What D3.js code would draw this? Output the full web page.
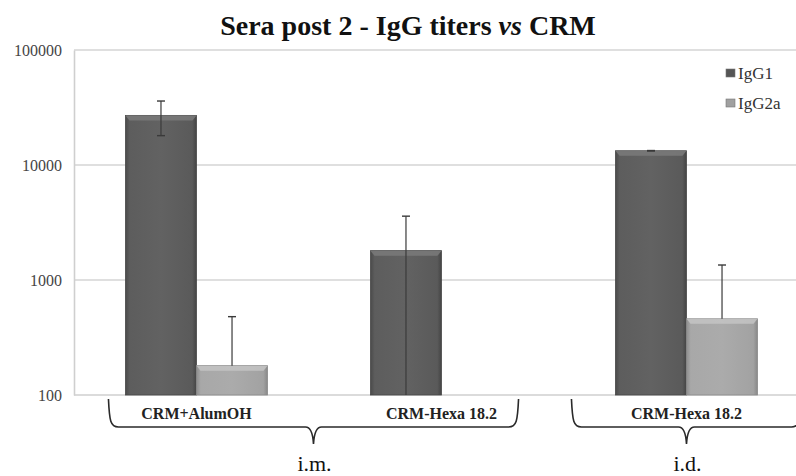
<!DOCTYPE html>
<html>
<head>
<meta charset="utf-8">
<script src="https://cdn.jsdelivr.net/npm/d3@7"></script>
<style>
  html, body { margin: 0; padding: 0; background: #fff; }
  svg { display: block; }
</style>
</head>
<body>
<svg id="chart" width="796" height="476"></svg>
<script>
// Groups along the x axis and their printed labels
const groups = ["g1", "g2", "g3"];
const groupLabels = ["CRM+AlumOH", "CRM-Hexa 18.2", "CRM-Hexa 18.2"];
const seriesNames = ["IgG1", "IgG2a"];

// Mean titers and standard deviations (null = no titer)
const igg1 = [27000, 1800, 13300];
const igg1Err = [9000, 1790, 60];
const igg2a = [180, null, 460];
const igg2aErr = [300, null, 890];

const yTicks = [100, 1000, 10000, 100000];

// Route of administration brackets: first and last group covered
const routes = [
  { label: "i.m.", from: 0, to: 1 },
  { label: "i.d.", from: 2, to: 2 }
];

const SERIF = "'Liberation Serif', 'Times New Roman', serif";
const svg = d3.select("#chart");
const W = 796;
const m = { left: 74, top: 50, bottom: 395 };
const plotRight = m.left + 3 * 245;

const x = d3.scaleBand().domain(groups).range([m.left, plotRight]).paddingInner(0.42).paddingOuter(0.21);
const xs = d3.scaleBand().domain(seriesNames).range([0, x.bandwidth()]);
const y = d3.scaleLog().domain([100, 100000]).range([m.bottom, m.top]);

const defs = svg.append("defs");
function grad(id, stops) {
  const g = defs.append("linearGradient").attr("id", id).attr("x1", 0).attr("x2", 1).attr("y1", 0).attr("y2", 0);
  stops.forEach(([o, c]) => g.append("stop").attr("offset", o).attr("stop-color", c));
}
grad("gDark", [[0, "#4a4a4a"], [0.06, "#5d5d5d"], [0.5, "#626262"], [0.94, "#5a5a5a"], [1, "#444"]]);
grad("gLight", [[0, "#8e8e8e"], [0.06, "#a8a8a8"], [0.5, "#ababab"], [0.94, "#a2a2a2"], [1, "#888"]]);
const fills = { IgG1: "url(#gDark)", IgG2a: "url(#gLight)" };
const topFills = { IgG1: "#7a7a7a", IgG2a: "#c4c4c4" };
const legendFills = { IgG1: "#555", IgG2a: "#a0a0a0" };

// Title
const title = svg.append("text")
  .attr("x", 408).attr("y", 35)
  .attr("text-anchor", "middle")
  .attr("font-family", SERIF)
  .attr("font-weight", "bold").attr("font-size", 28).attr("fill", "#111");
title.append("tspan").text("Sera post 2 - IgG titers ");
title.append("tspan").attr("font-style", "italic").text("vs");
title.append("tspan").text(" CRM");

// Grid lines (including top border at 100000)
svg.append("g").selectAll("line").data(yTicks.slice(1)).join("line")
  .attr("x1", m.left).attr("x2", W)
  .attr("y1", d => y(d)).attr("y2", d => y(d))
  .attr("stroke", "#d4d4d4").attr("stroke-width", 1.6);

// Y axis
const yAxis = d3.axisLeft(y).tickValues(yTicks).tickFormat(d3.format("d")).tickSize(0).tickPadding(12);
const ya = svg.append("g").attr("transform", `translate(${m.left},0)`).call(yAxis);
ya.attr("font-family", SERIF).attr("font-size", 16);
ya.select(".domain").attr("stroke", "#cfcfcf").attr("stroke-width", 1.6);
ya.selectAll("text").attr("fill", "#444");

// Baseline
svg.append("line").attr("x1", m.left).attr("x2", W)
  .attr("y1", m.bottom).attr("y2", m.bottom)
  .attr("stroke", "#cfcfcf").attr("stroke-width", 1.6);

// Bars
const rows = [];
groups.forEach((g, i) => {
  rows.push({ g, s: "IgG1", v: igg1[i], e: igg1Err[i] });
  rows.push({ g, s: "IgG2a", v: igg2a[i], e: igg2aErr[i] });
});
const present = rows.filter(r => r.v != null);

const bars = svg.append("g").selectAll("g").data(present).join("g")
  .attr("transform", d => `translate(${x(d.g) + xs(d.s)},0)`);
bars.append("rect")
  .attr("x", 0).attr("width", xs.bandwidth())
  .attr("y", d => y(d.v)).attr("height", d => m.bottom - y(d.v))
  .attr("fill", d => fills[d.s])
  .attr("stroke", d => d.s === "IgG1" ? "#484848" : "#8a8a8a").attr("stroke-width", 0.8);
// bevelled top edge
bars.append("path")
  .attr("d", d => {
    const w = xs.bandwidth(), t = y(d.v);
    return `M0,${t} L${w},${t} L${w - 4},${t + 5} L4,${t + 5} Z`;
  })
  .attr("fill", d => topFills[d.s]).attr("opacity", 0.85);

// Error bars: lower ends below the axis minimum are clipped to it,
// non-positive lower ends are not drawn on the log axis
const lowerY = d => {
  const lo = d.v - d.e;
  if (lo <= 0) return y(d.v);
  return lo < 100 ? m.bottom : y(lo);
};
const errs = svg.append("g").selectAll("g").data(present).join("g")
  .attr("transform", d => `translate(${x(d.g) + xs(d.s) + xs.bandwidth() / 2},0)`);
errs.append("line")
  .attr("y1", d => y(d.v + d.e))
  .attr("y2", lowerY)
  .attr("stroke", "#3a3a3a").attr("stroke-width", 1.2);
errs.append("line")
  .attr("x1", -4).attr("x2", 4)
  .attr("y1", d => y(d.v + d.e)).attr("y2", d => y(d.v + d.e))
  .attr("stroke", "#3a3a3a").attr("stroke-width", 1.4);
errs.filter(d => d.v - d.e >= 100).append("line")
  .attr("x1", -4).attr("x2", 4)
  .attr("y1", d => y(d.v - d.e)).attr("y2", d => y(d.v - d.e))
  .attr("stroke", "#3a3a3a").attr("stroke-width", 1.4);

// Group labels
svg.append("g").selectAll("text").data(groups).join("text")
  .attr("x", d => x(d) + x.bandwidth() / 2).attr("y", 419)
  .attr("text-anchor", "middle")
  .attr("font-family", SERIF)
  .attr("font-weight", "bold").attr("font-size", 16).attr("fill", "#222")
  .text((d, i) => groupLabels[i]);

// Route brackets
const braceTop = 399, braceLine = 427, braceTip = 444;
const braceInset = { left: [-17, -44], right: 6 };
routes.forEach((r, k) => {
  const x0 = x(groups[r.from]) + braceInset.left[k];
  const x1 = r.from === r.to
    ? 2 * (x(groups[r.to]) + x.bandwidth() / 2) - x0
    : x(groups[r.to]) + x.bandwidth() + braceInset.right;
  const xm = (x0 + x1) / 2;
  const p = d3.path();
  p.moveTo(x0, braceTop);
  p.bezierCurveTo(x0 + 1, braceLine - 6, x0 + 2, braceLine, x0 + 10, braceLine);
  p.lineTo(xm - 8, braceLine);
  p.quadraticCurveTo(xm - 1, braceLine, xm, braceTip);
  p.quadraticCurveTo(xm + 1, braceLine, xm + 8, braceLine);
  p.lineTo(x1 - 10, braceLine);
  p.bezierCurveTo(x1 - 2, braceLine, x1 - 1, braceLine - 6, x1, braceTop);
  svg.append("path").attr("d", p.toString())
    .attr("fill", "none").attr("stroke", "#2a2a2a").attr("stroke-width", 1.6);
  svg.append("text").attr("x", xm + 1).attr("y", 471)
    .attr("text-anchor", "middle")
    .attr("font-family", SERIF)
    .attr("font-size", 22).attr("fill", "#111")
    .text(r.label);
});

// Legend
const legend = svg.append("g").selectAll("g").data(seriesNames).join("g")
  .attr("transform", (d, i) => `translate(726,${73 + i * 30})`);
legend.append("rect").attr("x", 0).attr("y", -4).attr("width", 9).attr("height", 8)
  .attr("fill", d => legendFills[d]).attr("stroke", "#777").attr("stroke-width", 0.6);
legend.append("text").attr("x", 12).attr("y", 6)
  .attr("font-family", SERIF)
  .attr("font-size", 17).attr("fill", "#333")
  .text(d => d);
</script>
</body>
</html>
